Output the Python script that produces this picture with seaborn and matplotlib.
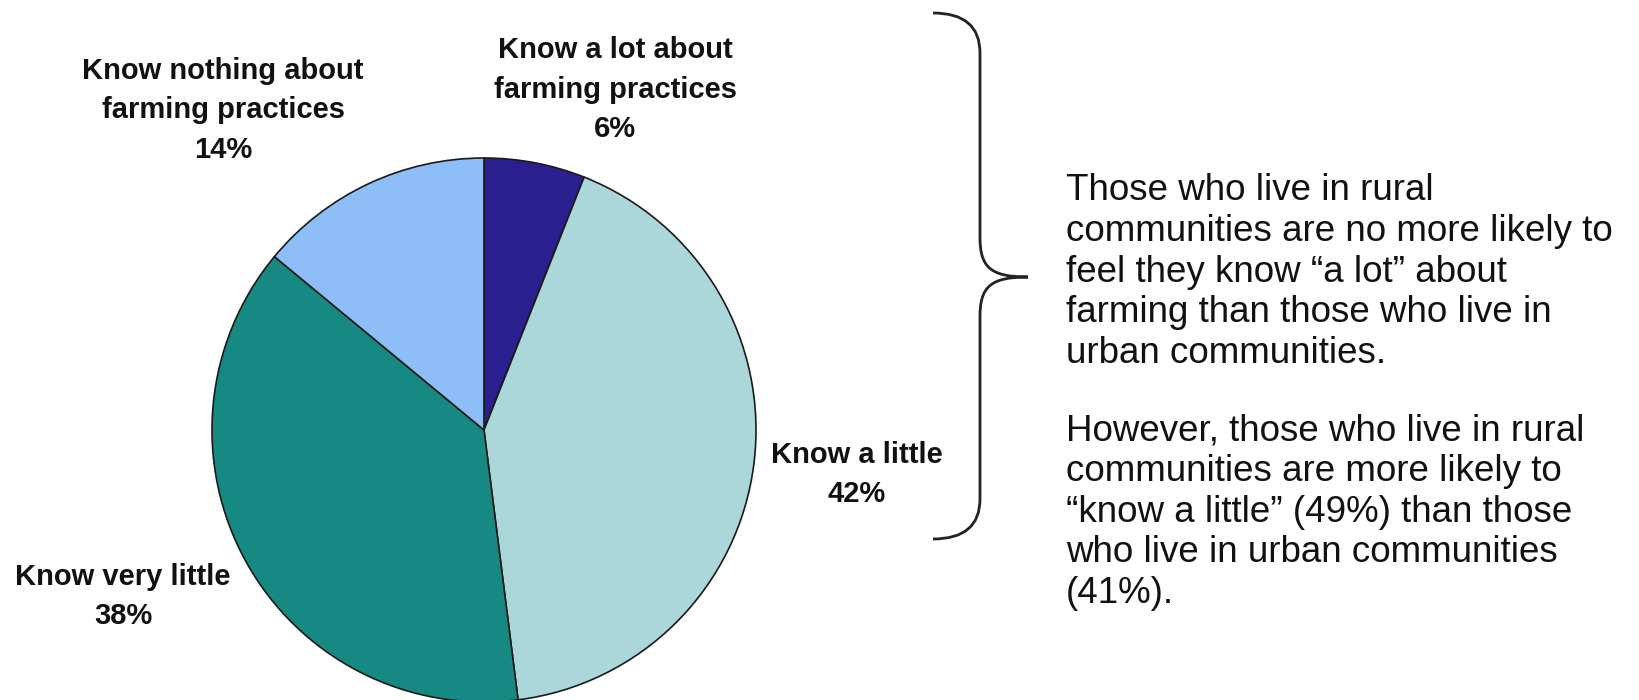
import matplotlib
matplotlib.use("Agg")
import matplotlib.pyplot as plt
from matplotlib import font_manager
from matplotlib.path import Path
from matplotlib.patches import PathPatch
import seaborn as sns

# ---- data ----
categories = ["Know a lot about\nfarming practices", "Know a little",
              "Know very little", "Know nothing about\nfarming practices"]
values = [6, 42, 38, 14]
colors = ["#2B1E8E", "#ABD7DB", "#168982", "#8DBEF7"]

para1 = ["Those who live in rural",
         "communities are no more likely to",
         "feel they know \u201ca lot\u201d about",
         "farming than those who live in",
         "urban communities."]
para2 = ["However, those who live in rural",
         "communities are more likely to",
         "\u201cknow a little\u201d (49%) than those",
         "who live in urban communities",
         "(41%)."]

sns.set_theme(style="white")
installed = {f.name for f in font_manager.fontManager.ttflist}
narrow = "Liberation Sans Narrow" if "Liberation Sans Narrow" in installed else "Liberation Sans"
plt.rcParams["font.family"] = ["Liberation Sans", "DejaVu Sans"]

W, H = 1639, 700
fig = plt.figure(figsize=(W / 100, H / 100), dpi=100)
fig.patch.set_facecolor("white")
ax = fig.add_axes([0, 0, 1, 1])

def Y(y):
    return H - y

cx, cy, r = 484, 430, 272
ax.pie(values, colors=colors, startangle=90, counterclock=False,
       center=(cx, Y(cy)), radius=r, frame=True,
       wedgeprops=dict(edgecolor="#1a1a1a", linewidth=1.2))
ax.set_xlim(0, W)
ax.set_ylim(0, H)
ax.set_aspect("equal")
ax.axis("off")

# labels: position (center x, top line y) in pixels
label_pos = [(615, 50), (857, 455), (123, 577), (223, 71)]
lsp = 39.5
for cat, v, (lx, ly) in zip(categories, values, label_pos):
    lines = cat.split("\n") + [f"{v}%"]
    for i, line in enumerate(lines):
        ax.text(lx, Y(ly + i * lsp), line, ha="center", va="center",
                fontsize=21, fontweight="bold", family=[narrow, "DejaVu Sans"],
                color="#111111")

# brace
x0, xv, xt = 933, 980, 1028
y0, ym, y1 = 13, 277, 539
k = 40
verts = [
    (x0, Y(y0)), (xv, Y(y0)), (xv, Y(y0 + k)),
    (xv, Y(ym - k)),
    (xv, Y(ym - 10)), (xv + 10, Y(ym)), (xt, Y(ym)),
    (xt, Y(ym)), (xv + 10, Y(ym)), (xv, Y(ym + 10)), (xv, Y(ym + k)),
    (xv, Y(y1 - k)),
    (xv, Y(y1)), (x0, Y(y1)),
]
codes = [Path.MOVETO, Path.CURVE3, Path.CURVE3,
         Path.LINETO,
         Path.CURVE4, Path.CURVE4, Path.CURVE4,
         Path.MOVETO, Path.CURVE4, Path.CURVE4, Path.CURVE4,
         Path.LINETO,
         Path.CURVE3, Path.CURVE3]
ax.add_patch(PathPatch(Path(verts, codes), facecolor="none",
                       edgecolor="#222222", linewidth=2))

# right text
tx = 1066
for i, line in enumerate(para1):
    ax.text(tx, Y(191 + i * 40.6), line, ha="left", va="center",
            fontsize=26.5, color="#111111")
for i, line in enumerate(para2):
    ax.text(tx, Y(431 + i * 40.6), line, ha="left", va="center",
            fontsize=26.5, color="#111111")

fig.savefig("out.png", dpi=100, facecolor="white")
